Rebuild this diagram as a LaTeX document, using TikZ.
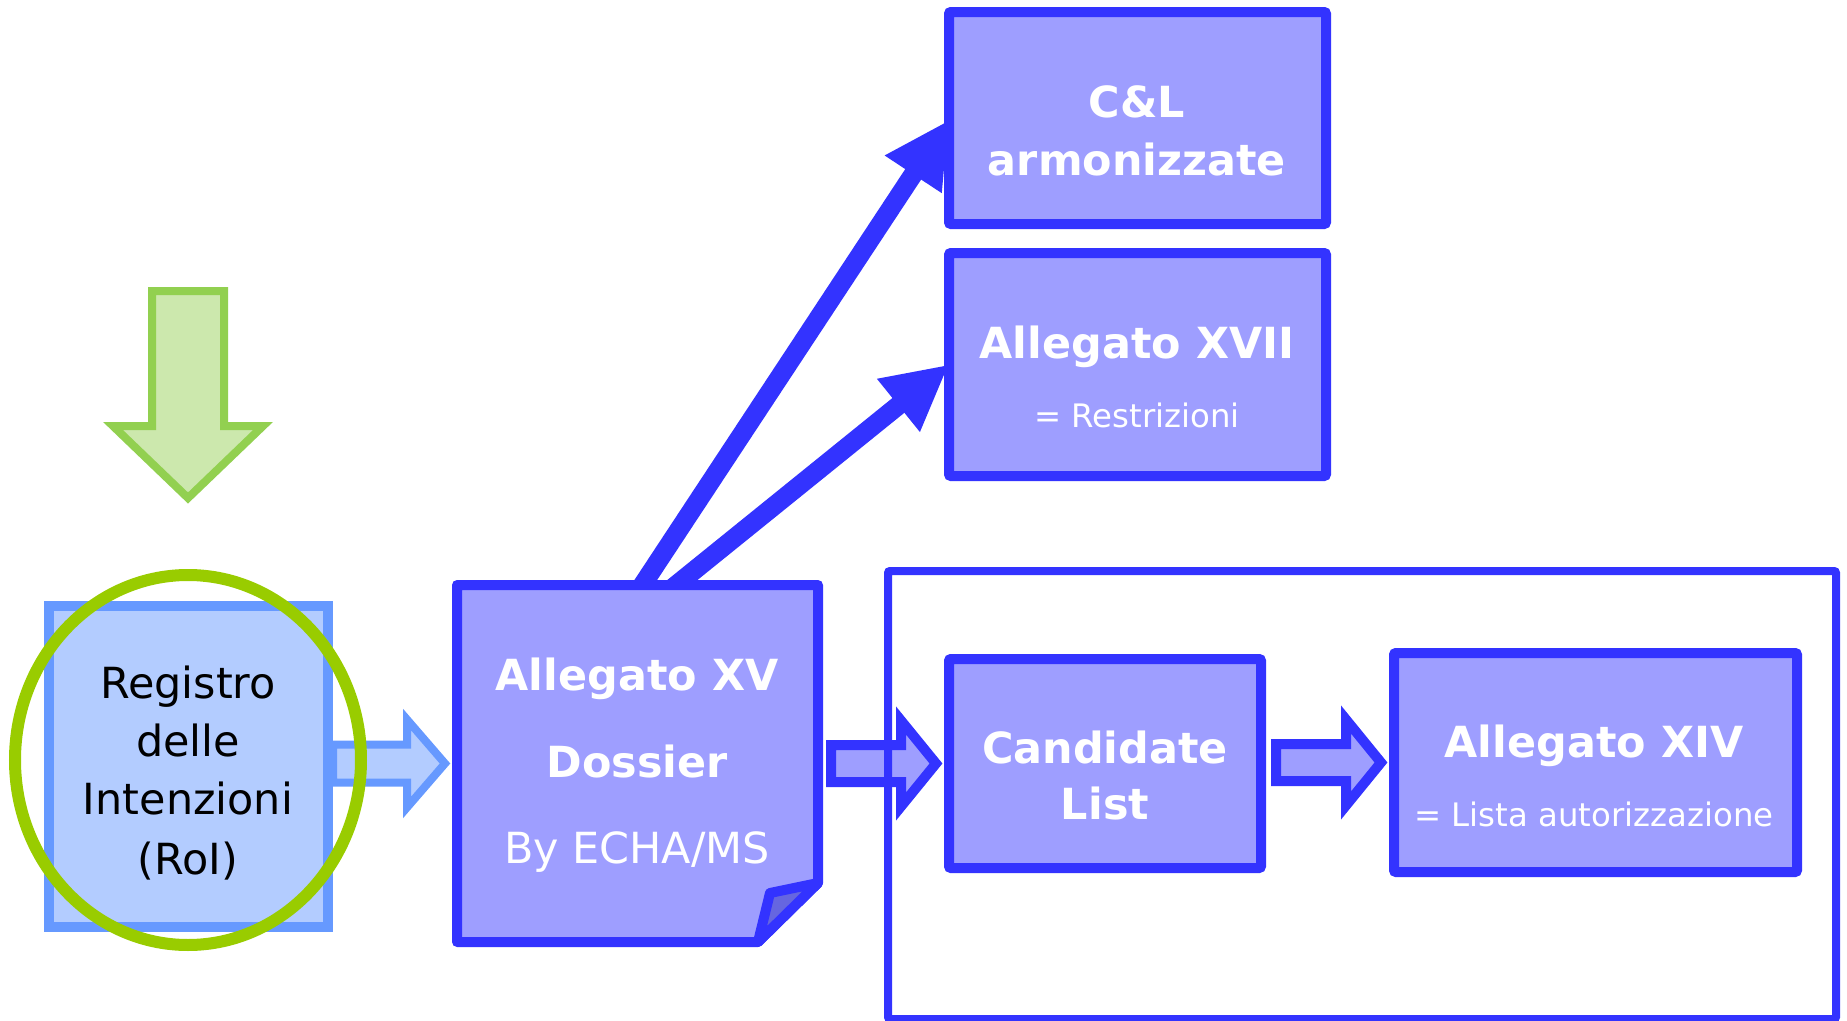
\documentclass[tikz,border=0pt]{standalone}
\usepackage{fontspec}
\setmainfont{DejaVu Sans}
\usetikzlibrary{arrows.meta,calc}
\pgfdeclarelayer{bg}
\pgfsetlayers{bg,main}
\newdimen\pxu \pxu=0.01cm
\definecolor{bstroke}{HTML}{3333FF}
\definecolor{bfill}{HTML}{9E9EFF}
\definecolor{foldc}{HTML}{6666E0}
\definecolor{lstroke}{HTML}{6699FF}
\definecolor{lfill}{HTML}{B3CCFF}
\definecolor{gstroke}{HTML}{92D050}
\definecolor{gfill}{HTML}{CCE8AD}
\definecolor{ringc}{HTML}{99CC00}
\begin{document}
\begin{tikzpicture}[x=0.01cm,y=-0.01cm,
  box/.style={draw=bstroke, fill=bfill, line width=10\pxu, rounded corners=2\pxu, inner sep=0pt},
  regbox/.style={draw=lstroke, fill=lfill, line width=10\pxu, inner sep=0pt},
  framebox/.style={draw=bstroke, line width=8\pxu, rounded corners=2\pxu, inner sep=0pt},
  bigt/.style={font=\fontsize{12.2pt}{14pt}\selectfont\bfseries, text=white, anchor=base, inner sep=0pt},
  plaint/.style={font=\fontsize{12.2pt}{14pt}\selectfont, text=white, anchor=base, inner sep=0pt},
  smallt/.style={font=\fontsize{9.2pt}{11pt}\selectfont, text=white, anchor=base, inner sep=0pt},
  blackt/.style={font=\fontsize{12.2pt}{14pt}\selectfont, text=black, anchor=base, inner sep=0pt},
  barrowL/.style={draw=lstroke, fill=lfill, line width=8\pxu, line join=miter},
  barrowB/.style={draw=bstroke, fill=bfill, line width=10\pxu, line join=miter},
  diag/.style={draw=bstroke, line width=19\pxu, -{Triangle[length=18.5pt,width=18pt]}},
]
\useasboundingbox (0,0) rectangle (1847,1021);

% green down arrow
\draw[draw=gstroke, fill=gfill, line width=8\pxu, line join=miter]
  (152,291) -- (224,291) -- (224,426) -- (263,426) -- (188,498) -- (113,426) -- (152,426) -- cycle;

% Registro box
\node[regbox, minimum width=279\pxu, minimum height=321\pxu] (reg) at (188.5,766.5) {};

% upper boxes
\node[box, minimum width=377\pxu, minimum height=212\pxu] (cl) at (1137.5,118) {};
\node[box, minimum width=377\pxu, minimum height=223\pxu] (xvii) at (1137.5,364.5) {};

% dossier (named node, custom outline)
\node[inner sep=0pt, outer sep=0pt, minimum width=361\pxu, minimum height=357\pxu] (dos) at (637.5,763.5) {};

% diagonal arrows (behind the boxes)
\begin{pgfonlayer}{bg}
\draw[diag] ($(dos.north)+(3,3)$) -- ($(cl.west)+(5,2)$);
\draw[diag] ($(dos.north)+(35,3)$) -- ($(xvii.west)+(5,0)$);
\end{pgfonlayer}

% dossier shape
\draw[draw=bstroke, fill=bfill, line width=10\pxu, line join=round]
  (dos.north west) -- (dos.north east) -- ($(dos.south east)+(0,-59)$)
  -- ($(dos.south east)+(-60,0)$) -- (dos.south west) -- cycle;
\draw[draw=bstroke, fill=foldc, line width=10\pxu, line join=round]
  ($(dos.south east)+(0,-59)$) -- ($(dos.south east)+(-48,-49)$) -- ($(dos.south east)+(-60,0)$) -- cycle;

% arrow Registro -> Dossier
\draw[barrowL] ($(reg.east |- dos.west)+(0,-19)$) -- ($(dos.west)+(-50,-19)$) -- ($(dos.west)+(-50,-44)$)
  -- ($(dos.west)+(-12,0)$) -- ($(dos.west)+(-50,44)$) -- ($(dos.west)+(-50,19)$)
  -- ($(reg.east |- dos.west)+(0,19)$) -- cycle;

% green ring
\draw[draw=ringc, line width=12\pxu] (188,760) ellipse [x radius=173, y radius=185];

% lower boxes
\node[box, minimum width=312\pxu, minimum height=209\pxu] (cand) at (1105,763.5) {};
\node[box, minimum width=403\pxu, minimum height=219\pxu] (xiv) at (1595.5,762.5) {};

% arrow Dossier -> Candidate
\draw[barrowB] ($(dos.east |- cand.west)+(13,-18.5)$) -- ($(cand.west)+(-43,-18.5)$) -- ($(cand.west)+(-43,-43)$)
  -- ($(cand.west)+(-8,0)$) -- ($(cand.west)+(-43,43)$) -- ($(cand.west)+(-43,18.5)$)
  -- ($(dos.east |- cand.west)+(13,18.5)$) -- cycle;

% frame
\node[framebox, minimum width=948\pxu, minimum height=448\pxu] (grp) at (1362,795) {};

% arrow Candidate -> Allegato XIV
\draw[barrowB] ($(cand.east |- xiv.west)+(10,-18.5)$) -- ($(xiv.west)+(-43,-18.5)$) -- ($(xiv.west)+(-43,-43)$)
  -- ($(xiv.west)+(-8,0)$) -- ($(xiv.west)+(-43,43)$) -- ($(xiv.west)+(-43,18.5)$)
  -- ($(cand.east |- xiv.west)+(10,18.5)$) -- cycle;

% texts
\node[blackt] (r1) at (188,698) {Registro};
\node[blackt] (r2) at (188,756) {delle};
\node[blackt] (r3) at (188,814) {Intenzioni};
\node[blackt] (r4) at (188,874) {(RoI)};

\node[bigt] (t1) at (637,690) {Allegato XV};
\node[bigt] (t2) at (637,777) {Dossier};
\node[plaint] (t3) at (637,863) {By ECHA/MS};

\node[bigt] (t4) at (1137,117) {C\&L};
\node[bigt] (t5) at (1137,175) {armonizzate};
\node[bigt] (t6) at (1137,358) {Allegato XVII};
\node[smallt] (t7) at (1137,427) {= Restrizioni};

\node[bigt] (t8) at (1105,763) {Candidate};
\node[bigt] (t9) at (1105,819) {List};
\node[bigt] (t10) at (1594,757) {Allegato XIV};
\node[smallt] (t11) at (1594,826) {= Lista autorizzazione};
\end{tikzpicture}
\end{document}
